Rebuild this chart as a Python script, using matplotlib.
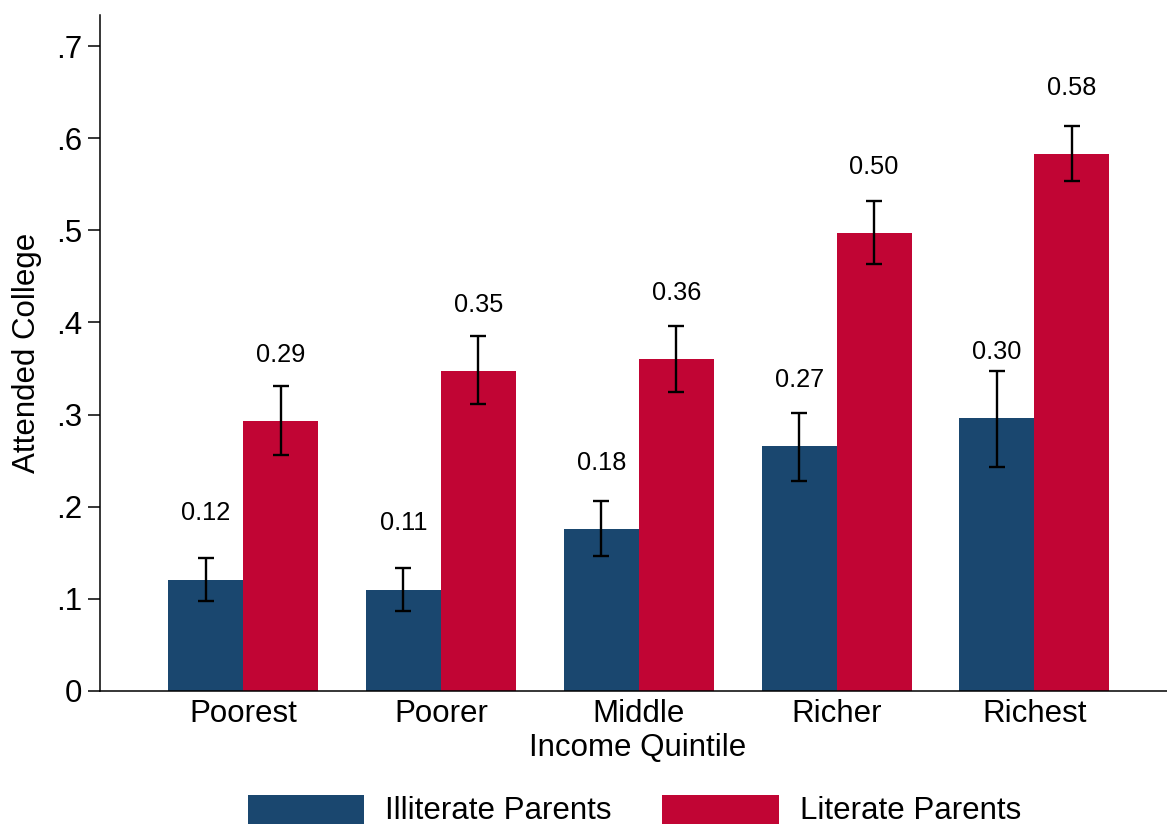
import matplotlib
matplotlib.use("Agg")
import matplotlib.pyplot as plt
from matplotlib.patches import Rectangle
import numpy as np

plt.rcParams['font.family'] = ['Liberation Sans', 'DejaVu Sans']

# Data
quintiles = ["Poorest", "Poorer", "Middle", "Richer", "Richest"]
illiterate_mean = [0.121, 0.110, 0.176, 0.266, 0.296]
illiterate_lo = [0.098, 0.087, 0.147, 0.228, 0.243]
illiterate_hi = [0.144, 0.134, 0.206, 0.302, 0.347]
literate_mean = [0.293, 0.347, 0.360, 0.497, 0.583]
literate_lo = [0.256, 0.311, 0.325, 0.463, 0.554]
literate_hi = [0.331, 0.385, 0.396, 0.532, 0.613]
series_names = ["Illiterate Parents", "Literate Parents"]
yticks = [0, 0.1, 0.2, 0.3, 0.4, 0.5, 0.6, 0.7]
ytick_labels = ["0", ".1", ".2", ".3", ".4", ".5", ".6", ".7"]

NAVY = "#1a476f"
CRANBERRY = "#c10534"
FS = 22.5

W, H = 1167, 824
fig = plt.figure(figsize=(W / 100, H / 100), dpi=100)
ax = fig.add_axes([100 / W, (H - 691) / H, (W - 100) / W, (691 - 15) / H])

x = np.arange(len(quintiles))
bw = 0.379

series = [
    (illiterate_mean, illiterate_lo, illiterate_hi, NAVY, -bw / 2),
    (literate_mean, literate_lo, literate_hi, CRANBERRY, bw / 2),
]
for mean, lo, hi, col, off in series:
    mean = np.array(mean)
    lo = np.array(lo)
    hi = np.array(hi)
    ax.bar(x + off, mean, width=bw, color=col, linewidth=0, zorder=2)
    ax.errorbar(x + off, mean, yerr=[mean - lo, hi - mean], fmt="none",
                ecolor="black", elinewidth=1.7, capsize=5.8, capthick=1.7,
                zorder=3)
    for xi, m in zip(x + off, mean):
        ax.text(xi, m + 0.072, f"{m:.2f}", ha="center", va="center",
                fontsize=18.3, color="black", zorder=4)

ax.set_xlim(-0.723, 4.67)
ax.set_ylim(0, 0.7337)
ax.set_yticks(yticks)
ax.set_yticklabels(ytick_labels)
ax.set_xticks(x)
ax.set_xticklabels(quintiles)

for s in ["top", "right"]:
    ax.spines[s].set_visible(False)
for s in ["left", "bottom"]:
    ax.spines[s].set_linewidth(1.1)
    ax.spines[s].set_color("black")

ax.tick_params(axis="y", length=9, width=1.1, pad=4, labelsize=FS,
               direction="out")
ax.tick_params(axis="x", length=0, pad=6, labelsize=FS)
ax.set_xlabel("Income Quintile", fontsize=FS, labelpad=1)
ax.xaxis.set_label_coords(0.5042, -0.0625)
ax.set_ylabel("Attended College", fontsize=FS, labelpad=10)

# Legend drawn below the axes
def fy(ypx):
    return (H - ypx) / H

legend_items = [(248, 364, 385, NAVY), (662, 779, 800, CRANBERRY)]
for (x0, x1, tx, col), name in zip(legend_items, series_names):
    fig.add_artist(Rectangle((x0 / W, fy(835)), (x1 - x0) / W,
                             fy(795) - fy(835), transform=fig.transFigure,
                             facecolor=col, edgecolor="none", clip_on=False))
    fig.text(tx / W, fy(819), name, ha="left", va="baseline", fontsize=FS)

fig.savefig("out.png", dpi=100, facecolor="white")
